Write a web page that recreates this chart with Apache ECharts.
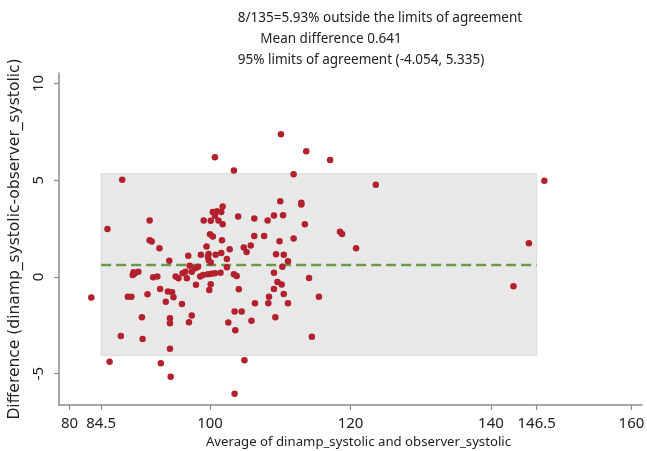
<!DOCTYPE html>
<html>
<head>
<meta charset="utf-8">
<script src="https://cdn.jsdelivr.net/npm/echarts@6/dist/echarts.min.js"></script>
<style>
html,body{margin:0;padding:0;background:#fff;}
#chart{width:647px;height:451px;}
</style>
</head>
<body>
<div id="chart"></div>
<script>
var titleLines = [
  "8/135=5.93% outside the limits of agreement",
  "Mean difference 0.641",
  "95% limits of agreement (-4.054, 5.335)"
];
var xTicks = [80, 84.5, 100, 120, 140, 146.5, 160];
var yTicks = [-5, 0, 5, 10];
var meanDiff = 0.641;
var limits = [-4.054, 5.335];
var xSpan = [84.5, 146.5];

var avgValues = [
  110.1,113.7,117.1,100.7,103.4,111.9,87.5,147.6,123.6,
  110.0,113.0,113.0,101.8,100.4,101.0,101.6,100.7,104.0,106.3,109.1,110.4,108.2,99.1,100.1,101.2,91.4,101.8,113.5,85.4,
  100.0,100.4,101.7,106.3,107.7,109.9,111.9,118.5,118.8,91.4,91.7,99.5,102.8,104.8,105.2,105.8,120.8,145.4,92.8,
  99.8,100.8,101.6,102.4,99.8,100.1,98.7,96.9,94.2,109.4,110.5,111.1,110.3,102.4,97.1,99.7,
  89.0,89.3,89.8,89.1,91.9,92.5,95.1,95.5,96.1,96.5,96.7,97.4,97.9,98.3,98.6,99.0,99.7,100.2,100.7,101.5,103.4,103.8,109.1,114.1,109.6,110.2,
  98.0,99.9,100.1,104.1,109.1,110.5,108.4,108.3,106.4,111.1,115.5,143.2,83.1,88.3,88.8,91.1,92.9,93.7,94.0,94.6,94.8,96.0,
  90.3,94.3,94.3,97.4,97.0,87.3,90.4,94.3,85.7,93.0,94.4,103.5,104.5,105.9,102.6,109.3,103.6,114.5,104.9,103.5
];
var diffValues = [
  7.38,6.50,6.04,6.19,5.50,5.31,5.02,4.97,4.76,
  3.91,3.84,3.74,3.64,3.35,3.40,3.35,3.16,3.12,3.02,3.17,3.19,2.91,2.91,2.90,2.91,2.91,2.72,2.72,2.48,
  2.21,2.09,1.90,2.12,2.12,1.85,1.98,2.34,2.22,1.90,1.83,1.57,1.43,1.52,1.29,1.62,1.48,1.74,1.48,
  1.19,1.14,1.23,0.93,0.88,0.74,1.14,1.10,0.83,1.17,1.14,0.81,0.53,0.50,0.58,1.05,
  0.10,0.19,0.27,0.24,-0.02,0.02,0.02,-0.07,0.19,0.27,-0.07,0.27,0.45,0.53,0.02,0.10,0.14,0.16,0.19,0.22,0.14,0.05,0.22,-0.05,-0.26,-0.39,
  -0.41,-0.67,-0.38,-0.64,-0.62,-0.88,-1.02,-1.36,-1.36,-1.36,-1.02,-0.48,-1.07,-1.02,-1.02,-0.90,-0.62,-1.28,-0.76,-0.79,-1.05,-1.40,
  -2.08,-2.14,-2.40,-2.00,-2.34,-3.05,-3.21,-3.71,-4.38,-4.46,-5.16,-1.79,-1.79,-2.26,-2.36,-2.09,-2.76,-3.09,-4.31,-6.04
];

var points = avgValues.map(function (v, i) { return [v, diffValues[i]]; });
var FONT = "Noto Sans";

var chart = echarts.init(document.getElementById('chart'), null, {renderer: 'canvas'});
chart.setOption({
  backgroundColor: '#ffffff',
  animation: false,
  textStyle: {fontFamily: FONT},
  grid: {left: 59, right: 5, top: 73, bottom: 46, containLabel: false, outerBoundsMode: 'none'},
  xAxis: {
    type: 'value', min: 78.5, max: 161.5,
    name: 'Average of dinamp_systolic and observer_systolic',
    nameLocation: 'middle', nameGap: 31,
    nameTextStyle: {fontSize: 13.2, color: '#222', fontFamily: FONT, padding: [0, 0, 0, 16]},
    axisLine: {show: true, onZero: false, lineStyle: {color: '#8a8a8a', width: 1.5}},
    axisTick: {show: true, length: 5, customValues: xTicks, lineStyle: {color: '#8a8a8a', width: 1.2}},
    axisLabel: {customValues: xTicks, fontSize: 15, color: '#222', margin: 11, fontFamily: FONT},
    splitLine: {show: false}
  },
  yAxis: {
    type: 'value', min: -6.62, max: 10.54,
    name: 'Difference (dinamp_systolic-observer_systolic)',
    nameLocation: 'middle', nameGap: 33, nameRotate: 90,
    nameTextStyle: {fontSize: 15.5, color: '#222', fontFamily: 'DejaVu Sans'},
    axisLine: {show: true, onZero: false, lineStyle: {color: '#8a8a8a', width: 1.5}},
    axisTick: {show: true, length: 5, customValues: yTicks, lineStyle: {color: '#8a8a8a', width: 1.2}},
    axisLabel: {customValues: yTicks, fontSize: 15, color: '#222', rotate: 90, margin: 13, fontFamily: FONT},
    splitLine: {show: false}
  },
  graphic: [
    {type: 'text', x: 380, y: 11, style: {text: titleLines[0], fontSize: 13.5, fill: '#222', fontFamily: FONT, textAlign: 'center'}},
    {type: 'text', x: 331, y: 32, style: {text: titleLines[1], fontSize: 13.5, fill: '#222', fontFamily: FONT, textAlign: 'center'}},
    {type: 'text', x: 361, y: 53, style: {text: titleLines[2], fontSize: 13.5, fill: '#222', fontFamily: FONT, textAlign: 'center'}}
  ],
  series: [
    {
      type: 'line', data: [], z: 1, silent: true,
      markArea: {
        silent: true,
        itemStyle: {color: '#e8e8e8', borderColor: '#dadada', borderWidth: 1},
        data: [[{coord: [xSpan[0], limits[0]]}, {coord: [xSpan[1], limits[1]]}]]
      },
      markLine: {
        silent: true, symbol: 'none', label: {show: false},
        lineStyle: {color: '#6a9a48', width: 2.3, type: [10, 5]},
        data: [[{coord: [xSpan[0], meanDiff]}, {coord: [xSpan[1], meanDiff]}]]
      }
    },
    {
      type: 'scatter', z: 5, data: points, symbolSize: 6.5,
      itemStyle: {color: '#b2212d', opacity: 1}
    }
  ]
});
</script>
</body>
</html>
